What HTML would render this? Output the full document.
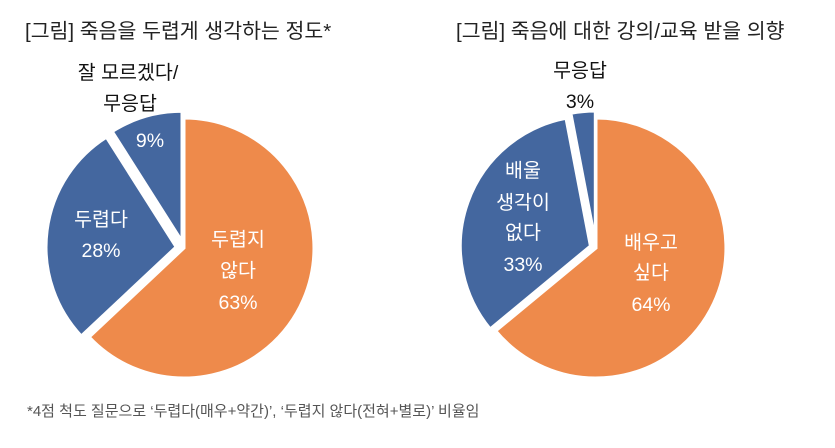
<!DOCTYPE html>
<html><head><meta charset="utf-8"><style>
html,body{margin:0;padding:0;background:#fff;}
svg text{font-family:"Liberation Sans","Noto Sans CJK KR",sans-serif;}
</style></head><body>
<svg width="835" height="443" viewBox="0 0 835 443" xmlns="http://www.w3.org/2000/svg">
<g stroke="#fff" stroke-width="3" stroke-linejoin="miter">
<path d="M184,248 L184,118 A130,130 0 1 1 89.2,337 Z" fill="#EE8A4B"/>
<path d="M176.1,247 L81.3,336 A130,130 0 0 1 106.4,137.2 Z" fill="#44679F"/>
<path d="M182,241.3 L112.3,131.5 A130,130 0 0 1 182,111.3 Z" fill="#44679F"/>
<path d="M596,248 L596,118 A130,130 0 1 1 495.8,330.9 Z" fill="#EE8A4B"/>
<path d="M590.4,246 L490.2,328.9 A130,130 0 0 1 566,118.3 Z" fill="#44679F"/>
<path d="M595.3,241 L570.9,113.3 A130,130 0 0 1 595.3,111 Z" fill="#44679F"/>
</g>
<g font-size="20.5" fill="#222">
<text x="25" y="38">[그림] 죽음을 두렵게 생각하는 정도*</text>
<text x="456" y="38">[그림] 죽음에 대한 강의/교육 받을 의향</text>
</g>
<g font-size="19.5" text-anchor="middle" fill="#111">
<text x="128" y="79">잘 모르겠다/</text>
<text x="130" y="110">무응답</text>
<text x="580" y="77">무응답</text>
<text x="580" y="108">3%</text>
</g>
<g font-size="19.5" text-anchor="middle" fill="#fff">
<text x="150" y="147">9%</text>
<text x="101" y="226">두렵다</text>
<text x="101" y="257">28%</text>
<text x="238" y="246">두렵지</text>
<text x="238" y="277">않다</text>
<text x="238" y="309">63%</text>
<text x="523" y="177">배울</text>
<text x="523" y="209">생각이</text>
<text x="523" y="239">없다</text>
<text x="523" y="271">33%</text>
<text x="651" y="249">배우고</text>
<text x="651" y="279">싶다</text>
<text x="651" y="311">64%</text>
</g>
<text x="27" y="416" font-size="15" fill="#555">*4점 척도 질문으로 ‘두렵다(매우+약간)’,  ‘두렵지 않다(전혀+별로)’ 비율임</text>
</svg>
</body></html>
